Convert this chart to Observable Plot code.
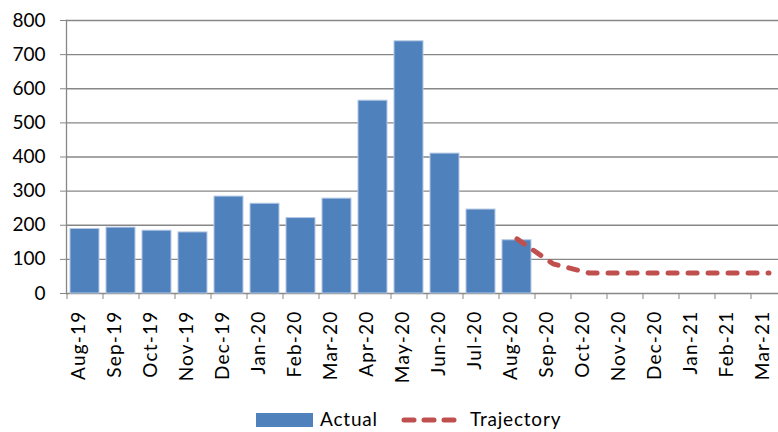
<!DOCTYPE html>
<html>
<head>
<meta charset="utf-8">
<script src="https://cdn.jsdelivr.net/npm/d3@7"></script>
<script src="https://cdn.jsdelivr.net/npm/@observablehq/plot@0.6"></script>
<style>
  html, body { margin: 0; padding: 0; background: #fff; width: 778px; height: 432px; overflow: hidden; }
  #chart svg { display: block; overflow: visible; }
  #chart g[aria-label="text"] text { letter-spacing: 1.2px; }
  .legend { position: relative; height: 27px; font-family: Lato, sans-serif; font-size: 19px; color: #000; letter-spacing: 0.8px; }
  .legend .sw { position: absolute; left: 256px; top: 8px; width: 57px; height: 14px; background: #4F81BD; }
  .legend .t1 { position: absolute; left: 320px; top: 3px; line-height: 22px; }
  .legend .dash { position: absolute; left: 400px; top: 8px; }
  .legend .t2 { position: absolute; left: 470px; top: 3px; line-height: 22px; }
</style>
</head>
<body>
<div id="chart"></div>
<div class="legend">
  <div class="sw"></div><span class="t1">Actual</span>
  <svg class="dash" width="62" height="14"><line x1="4" y1="7" x2="58" y2="7" stroke="#C0504D" stroke-width="5" stroke-linecap="round" stroke-dasharray="10,10"/></svg>
  <span class="t2">Trajectory</span>
</div>
<script>
const months = ["Aug-19","Sep-19","Oct-19","Nov-19","Dec-19","Jan-20","Feb-20","Mar-20","Apr-20","May-20","Jun-20","Jul-20","Aug-20","Sep-20","Oct-20","Nov-20","Dec-20","Jan-21","Feb-21","Mar-21"];
const actualMonths = months.slice(0, 13);
const actualValues = [189, 193, 184, 179, 284, 263, 221, 278, 565, 739, 410, 246, 156];
const trajectoryMonths = months.slice(12);
const trajectoryValues = [160, 87, 60, 60, 60, 60, 60, 60];
const yTicks = [0, 100, 200, 300, 400, 500, 600, 700, 800];

const actual = actualMonths.map((m, i) => ({month: m, value: actualValues[i]}));
const trajectory = trajectoryMonths.map((m, i) => ({month: m, value: trajectoryValues[i]}));

const chart = Plot.plot({
  width: 778,
  height: 405,
  marginTop: 20,
  marginBottom: 112,
  marginLeft: 66,
  marginRight: 0,
  style: {fontFamily: "Lato, sans-serif", fontSize: "19px", color: "#000", background: "#fff"},
  x: {type: "band", domain: months, range: [66, 786], paddingInner: 0.2, paddingOuter: 0.1, axis: null},
  y: {domain: [0, 800], axis: null},
  marks: [
    Plot.ruleY(yTicks, {stroke: "#878787", strokeWidth: 1.3}),
    Plot.axisY({ticks: yTicks, label: null, tickSize: 6, tickPadding: 15, stroke: "#878787", fill: "#000", fontSize: 19, tickFormat: d => String(d)}),
    Plot.frame({anchor: "left", stroke: "#878787", strokeWidth: 1.3}),
    Plot.barY(actual, {x: "month", y: "value", fill: "#4F81BD", stroke: "#b4c8e4", strokeWidth: 1}),
    Plot.line(trajectory, {x: "month", y: "value", stroke: "#C0504D", strokeWidth: 5, strokeLinecap: "round", strokeDasharray: "9,11"}),
    Plot.axisX({label: null, tickSize: 6, dx: -18, stroke: "#878787", tickFormat: () => ""}),
    Plot.text(months, {x: d => d, frameAnchor: "bottom", dy: 17, rotate: -90, textAnchor: "end", fontSize: 19, fill: "#000"})
  ]
});
document.getElementById("chart").appendChild(chart);
</script>
</body>
</html>
